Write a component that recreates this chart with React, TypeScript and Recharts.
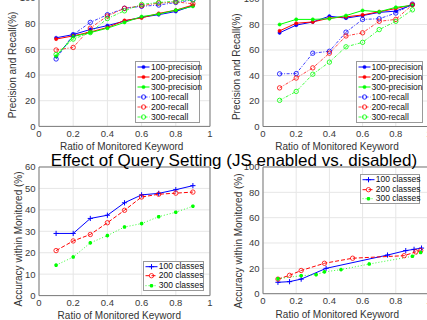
import React from 'react';
import { LineChart, Line, XAxis, YAxis, CartesianGrid, Legend, ReferenceLine } from 'recharts';

// ---------- data ----------
const ratios = [0.1, 0.2, 0.3, 0.4, 0.5, 0.6, 0.7, 0.8, 0.9];
const xTicks = [0, 0.2, 0.4, 0.6, 0.8, 1];
const yTicks100 = [0, 20, 40, 60, 80, 100];
const yTicks60 = [0, 10, 20, 30, 40, 50, 60];

// top-left panel (JS enabled)
const tlP100 = [69, 71.5, 75.5, 78.5, 82, 85, 87, 89.5, 94];
const tlP200 = [68, 70.5, 73.5, 77, 82.5, 84.5, 88, 90.5, 94.5];
const tlP300 = [54.5, 70, 73, 76.5, 81, 85.5, 87.5, 90.5, 93.5];
const tlR100 = [52.5, 71.5, 81, 87, 92, 93.5, 94.5, 96.5, 98.5];
const tlR200 = [59.5, 61.5, 76.5, 86, 92, 94, 96, 97, 95.5];
const tlR300 = [56, 68, 73, 84, 90, 95, 96.5, 97.5, 98.5];

// top-right panel (JS disabled)
const trP100 = [73.5, 79.5, 82, 86.5, 85, 87, 89.5, 90.5, 95.5];
const trP200 = [75, 81, 82, 85, 86, 87.5, 90, 92.5, 95.5];
const trP300 = [80, 84, 84, 84.5, 87, 91, 90, 93.5, 95];
const trR100 = [41.3, 41.5, 57.5, 59, 74, 84, 84.5, 89, 96];
const trR200 = [30.3, 38, 46, 57.5, 71, 73.5, 82.5, 84, 95.5];
const trR300 = [20.5, 27.5, 41, 50.5, 62.5, 66, 76, 82.5, 91.5];

// bottom-left panel
const blC100 = [29, 29, 36, 37.5, 43.3, 47, 47.7, 49.4, 51.3];
const blC200 = [21, 25.5, 28.5, 34, 39.8, 46, 47.3, 47.8, 48.3];
const blC300 = [14.2, 18, 24.6, 28, 32, 33.6, 36.8, 38.9, 41.7];

// bottom-right panel (own x positions per series)
const brX100 = [0.09, 0.16, 0.23, 0.38, 0.75, 0.86, 0.91, 0.955];
const brY100 = [9, 9.5, 11.5, 20, 30.5, 34, 35, 36];
const brX200 = [0.09, 0.16, 0.23, 0.37, 0.54, 0.85, 0.92, 0.95];
const brY200 = [11.5, 14.5, 18.3, 24, 28, 30, 33, 34];
const brX300 = [0.09, 0.23, 0.32, 0.37, 0.47, 0.64, 0.9, 0.95];
const brY300 = [11.8, 14.2, 15, 17.2, 19, 23.4, 29.5, 32.5];

const TITLE = 'Effect of Query Setting (JS enabled vs. disabled)';
const XLABEL = 'Ratio of Monitored Keyword';
const YLABEL_TOP = 'Precision and Recall(%)';
const YLABEL_BOTTOM = 'Accuracy within Monitored (%)';

// ---------- styles ----------
const FONT = '"Liberation Sans", Arial, Helvetica, sans-serif';
const BLUE = '#0000ff';
const RED = '#ff0000';
const GREEN = '#00ff00';
const AXIS = '#7a7a7a';
const TICK = '#3a3a3a';
const GRID = '#e6e6e6';
const DASHDOT = '3 1.5 1 1.5';

type Series = { key: string; name: string; color: string; dash?: string; marker: string; opacity?: number; data?: any[] };

const zip = (xs: number[], cols: Record<string, number[]>) =>
  xs.map((x, i) => {
    const row: any = { x };
    Object.keys(cols).forEach((k) => (row[k] = cols[k][i]));
    return row;
  });

const tlData = zip(ratios, { p100: tlP100, p200: tlP200, p300: tlP300, r100: tlR100, r200: tlR200, r300: tlR300 });
const trData = zip(ratios, { p100: trP100, p200: trP200, p300: trP300, r100: trR100, r200: trR200, r300: trR300 });
const blData = zip(ratios, { c100: blC100, c200: blC200, c300: blC300 });
const pts = (xs: number[], ys: number[]) => xs.map((x, i) => ({ x, y: ys[i] }));

const prSeries: Series[] = [
  { key: 'p100', name: '100-precision', color: BLUE, marker: 'dot' },
  { key: 'p200', name: '200-precision', color: RED, marker: 'dot' },
  { key: 'p300', name: '300-precision', color: GREEN, marker: 'dot' },
  { key: 'r100', name: '100-recall', color: BLUE, marker: 'circle', dash: DASHDOT, opacity: 0.75 },
  { key: 'r200', name: '200-recall', color: RED, marker: 'circle', dash: DASHDOT, opacity: 0.75 },
  { key: 'r300', name: '300-recall', color: GREEN, marker: 'circle', dash: DASHDOT, opacity: 0.75 },
];

const blSeries: Series[] = [
  { key: 'c100', name: '100 classes', color: BLUE, marker: 'plus' },
  { key: 'c200', name: '200 classes', color: RED, marker: 'circle', dash: '4 2' },
  { key: 'c300', name: '300 classes', color: GREEN, marker: 'star', dash: '1 2', opacity: 0.8 },
];

const brSeries: Series[] = [
  { key: 'y', name: '100 classes', color: BLUE, marker: 'plus', data: pts(brX100, brY100) },
  { key: 'y', name: '200 classes', color: RED, marker: 'circle', dash: '4 2', data: pts(brX200, brY200) },
  { key: 'y', name: '300 classes', color: GREEN, marker: 'star', dash: '1 2', opacity: 0.8, data: pts(brX300, brY300) },
];

function markerEl(type: string, cx: number, cy: number, color: string, key?: any) {
  if (cx == null || cy == null || isNaN(cx) || isNaN(cy)) return <g key={key} />;
  switch (type) {
    case 'dot':
      return <circle key={key} cx={cx} cy={cy} r={1.6} fill={color} stroke={color} strokeWidth={0.6} />;
    case 'circle':
      return <circle key={key} cx={cx} cy={cy} r={2.2} fill="none" stroke={color} strokeWidth={0.8} />;
    case 'plus':
      return (
        <path key={key} d={`M${cx - 2.6} ${cy}H${cx + 2.6}M${cx} ${cy - 2.6}V${cy + 2.6}`} stroke={color} strokeWidth={1} fill="none" />
      );
    case 'star':
    default: {
      const s = 1.8;
      const d = 1.3;
      return (
        <path
          key={key}
          d={`M${cx - s} ${cy}H${cx + s}M${cx} ${cy - s}V${cy + s}M${cx - d} ${cy - d}L${cx + d} ${cy + d}M${cx - d} ${cy + d}L${cx + d} ${cy - d}`}
          stroke={color}
          strokeWidth={1.2}
          fill="none"
        />
      );
    }
  }
}

const renderLegend = (items: Series[], rowH: number, width: number) => () => (
  <div
    style={{
      border: '1px solid #9a9a9a',
      background: '#fff',
      width,
      boxSizing: 'border-box',
      fontFamily: FONT,
      fontSize: 8.5,
      color: '#111',
    }}
  >
    {items.map((s) => (
      <div key={s.name} style={{ display: 'flex', alignItems: 'center', height: rowH, whiteSpace: 'nowrap', lineHeight: `${rowH}px` }}>
        <svg width={13} height={rowH} style={{ marginLeft: 1, flex: 'none', display: 'block' }}>
          <line x1={0.5} x2={12.5} y1={rowH / 2} y2={rowH / 2} stroke={s.color} strokeDasharray={s.dash} strokeWidth={1} strokeOpacity={s.opacity ?? 1} />
          {markerEl(s.marker, 6.5, rowH / 2, s.color)}
        </svg>
        <span style={{ marginLeft: 1 }}>{s.name}</span>
      </div>
    ))}
  </div>
);

type PanelProps = {
  plot: { x0: number; x1: number; y0: number; y1: number };
  data?: any[];
  series: Series[];
  yMax: number;
  yTicks: number[];
  legend: { x: number; y: number; w: number; rowH: number };
};

function Panel({ plot, data, series, yMax, yTicks, legend }: PanelProps) {
  const ML = 40, MT = 10, MR = 10, XH = 30;
  const width = plot.x1 - plot.x0 + ML + MR;
  const height = plot.y1 - plot.y0 + MT + XH;
  const left = plot.x0 - ML;
  const top = plot.y0 - MT;
  return (
    <div style={{ position: 'absolute', left, top, width, height }}>
      <LineChart width={width} height={height} data={data} margin={{ top: MT, right: MR, bottom: 0, left: 0 }}>
        <CartesianGrid stroke={GRID} />
        <XAxis
          type="number"
          dataKey="x"
          domain={[0, 1]}
          ticks={xTicks}
          interval={0}
          height={XH}
          tickSize={2}
          tickMargin={2}
          tickLine={false}
          axisLine={{ stroke: AXIS }}
          tick={{ fontSize: 9.5, fill: TICK, fontFamily: FONT }}
          allowDataOverflow
        />
        <YAxis
          type="number"
          domain={[0, yMax]}
          ticks={yTicks}
          interval={0}
          width={ML}
          tickSize={2}
          tickMargin={1.5}
          tickLine={false}
          axisLine={{ stroke: AXIS }}
          tick={{ fontSize: 9.5, fill: TICK, fontFamily: FONT }}
          allowDataOverflow
        />
        <ReferenceLine y={yMax} stroke={AXIS} ifOverflow="visible" />
        <ReferenceLine x={1} stroke={AXIS} ifOverflow="visible" />
        {series.map((s, i) => (
          <Line
            key={s.name}
            data={s.data}
            dataKey={s.key}
            name={s.name}
            type="linear"
            stroke={s.color}
            strokeWidth={1}
            strokeOpacity={s.opacity ?? 1}
            strokeDasharray={s.dash}
            isAnimationActive={false}
            activeDot={false}
            dot={(p: any) => markerEl(s.marker, p.cx, p.cy, s.color, `${i}-${p.index}`)}
          />
        ))}
        <Legend
          layout="vertical"
          align="center"
          verticalAlign="middle"
          wrapperStyle={{ left: legend.x - left, top: legend.y - top, width: legend.w, height: 'auto' }}
          content={renderLegend(series, legend.rowH, legend.w)}
        />
      </LineChart>
    </div>
  );
}

export default function App() {
  return (
    <div
      style={{
        position: 'fixed',
        left: 0,
        top: 0,
        width: 427,
        height: 320,
        overflow: 'hidden',
        background: '#fff',
        fontFamily: FONT,
      }}
    >
      <Panel
        plot={{ x0: 39, x1: 210, y0: -2.4, y1: 126 }}
        data={tlData}
        series={prSeries}
        yMax={100}
        yTicks={yTicks100}
        legend={{ x: 135, y: 61, w: 65, rowH: 10 }}
      />
      <Panel
        plot={{ x0: 262.5, x1: 428.5, y0: -1.5, y1: 126 }}
        data={trData}
        series={prSeries}
        yMax={100}
        yTicks={yTicks100}
        legend={{ x: 355.5, y: 61, w: 67, rowH: 10 }}
      />
      <Panel
        plot={{ x0: 39, x1: 210, y0: 166.7, y1: 295.3 }}
        data={blData}
        series={blSeries}
        yMax={60}
        yTicks={yTicks60}
        legend={{ x: 142.7, y: 261, w: 61, rowH: 9.4 }}
      />
      <Panel
        plot={{ x0: 262.5, x1: 428.5, y0: 167.3, y1: 294 }}
        series={brSeries}
        yMax={100}
        yTicks={yTicks100}
        legend={{ x: 359.7, y: 174.3, w: 60, rowH: 9.4 }}
      />
      <svg
        width={427}
        height={320}
        style={{ position: 'absolute', left: 0, top: 0, pointerEvents: 'none' }}
        fontFamily={FONT}
      >
        <text x={121.7} y={149.5} fontSize={10} fill="#333" textAnchor="middle">{XLABEL}</text>
        <text x={337} y={149.5} fontSize={10} fill="#333" textAnchor="middle">{XLABEL}</text>
        <text x={119.3} y={318.5} fontSize={10} fill="#333" textAnchor="middle">{XLABEL}</text>
        <text x={337.3} y={317.5} fontSize={10} fill="#333" textAnchor="middle">{XLABEL}</text>
        <text transform="translate(15.5,65) rotate(-90)" fontSize={10} fill="#333" textAnchor="middle">{YLABEL_TOP}</text>
        <text transform="translate(239.8,66.7) rotate(-90)" fontSize={10} fill="#333" textAnchor="middle">{YLABEL_TOP}</text>
        <text transform="translate(21.8,239) rotate(-90)" fontSize={10} fill="#333" textAnchor="middle">{YLABEL_BOTTOM}</text>
        <text transform="translate(241.5,241) rotate(-90)" fontSize={10} fill="#333" textAnchor="middle">{YLABEL_BOTTOM}</text>
        <text x={234} y={166} fontSize={17} fill="#000" textAnchor="middle">{TITLE}</text>
      </svg>
    </div>
  );
}
